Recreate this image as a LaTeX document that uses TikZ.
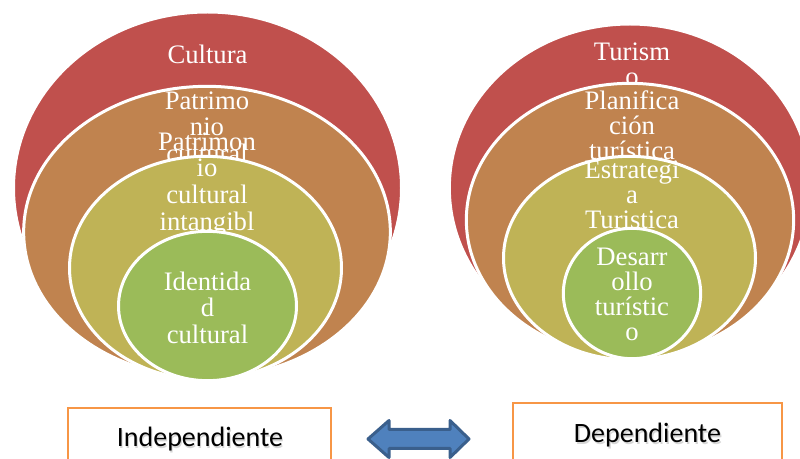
\documentclass[tikz,border=0pt]{standalone}
\usepackage{fontspec}
\setmainfont{Liberation Serif}
\newfontfamily\circfont{Liberation Serif}
\newfontfamily\boxfont{Carlito}
\usetikzlibrary{shapes.geometric}
\definecolor{cRed}{HTML}{C0504D}
\definecolor{cOrange}{HTML}{C0834F}
\definecolor{cOlive}{HTML}{BFB356}
\definecolor{cGreen}{HTML}{9BBB59}
\definecolor{cBoxLine}{HTML}{F79646}
\definecolor{cArrow}{HTML}{4F81BD}
\definecolor{cArrowLine}{HTML}{3A5F8C}
\begin{document}
\begin{tikzpicture}[x=0.75pt,y=-0.75pt,
  ring/.style={ellipse, draw=white, line width=2.25pt, inner sep=0pt},
  lbl/.style={text=white, align=center, anchor=north, inner sep=0pt,
    font=\circfont\fontsize{20}{20}\selectfont, execute at begin node=\strut},
  lblr/.style={lbl, font=\circfont\fontsize{20}{18.75}\selectfont},
  boxline/.style={draw=cBoxLine, line width=1.5pt, fill=white, inner sep=0pt},
  boxtext/.style={font=\boxfont\fontsize{21}{25}\selectfont, anchor=base, inner sep=0pt},
  boxshadow/.style={boxtext, text=black!35, opacity=0.45},
  arrowshape/.style={fill=cArrow, draw=cArrowLine, line width=2.25pt, line join=round}
]
\useasboundingbox (0,0) rectangle (800,459);
\clip (0,0) rectangle (800,459);

% ---------- left diagram ----------
\node[ring, fill=cRed, minimum width=291pt, minimum height=264pt] (L1) at (207.5,188) {};
\node[lbl] (tL1) at (207.5,44.3) {Cultura};
\node[ring, fill=cOrange, minimum width=275pt, minimum height=218.5pt] (L2) at (207,232) {};
\node[lbl] (tL2) at (207,91.3) {Patrimo\\nio\\cultural};
\node[ring, fill=cOlive, minimum width=204pt, minimum height=167.5pt] (L3) at (205.5,268) {};
\node[lbl] (tL3) at (207,132.3) {Patrimon\\io\\cultural\\intangibl\\e};
\node[ring, fill=cGreen, minimum width=133.5pt, minimum height=112pt] (L4) at (207.5,306) {};
\node[lbl] (tL4) at (207.5,271.3) {Identida\\d\\cultural};

% ---------- right diagram ----------
\node[ring, fill=cRed, minimum width=271pt, minimum height=246pt] (R1) at (630,188) {};
\node[lblr] (tR1) at (632,42.5) {Turism\\o};
\node[ring, fill=cOrange, minimum width=245.5pt, minimum height=205pt] (R2) at (630,220) {};
\node[lblr] (tR2) at (632,90.5) {Planifica\\ción\\turística};
\node[ring, fill=cOlive, minimum width=189pt, minimum height=152.5pt] (R3) at (629.5,258) {};
\node[lblr] (tR3) at (632,160.5) {Estrategi\\a\\Turistica};
\node[ring, fill=cGreen, minimum width=103pt, minimum height=97.75pt] (R4) at (632,293.5) {};
\node[lblr] (tR4) at (632,247.5) {Desarr\\ollo\\turístic\\o};

% ---------- bottom boxes ----------
\node[boxline, minimum width=197.25pt, minimum height=46.5pt] (indep) at (199.5,439) {};
\node[boxshadow] (indepS) at (201,448.2) {Independiente};
\node[boxtext] (indepT) at (200,446.7) {Independiente};

\node[boxline, minimum width=201.75pt, minimum height=50.25pt] (dep) at (647.5,436.5) {};
\node[boxshadow] (depS) at (649,444.2) {Dependiente};
\node[boxtext] (depT) at (647.5,442.7) {Dependiente};

% ---------- double arrow ----------
\draw[arrowshape] (368,439) -- (389,420.5) -- (389,429.5) -- (450,429.5) -- (450,420.5)
  -- (469,439) -- (450,457.5) -- (450,448.5) -- (389,448.5) -- (389,457.5) -- cycle;
\end{tikzpicture}
\end{document}
